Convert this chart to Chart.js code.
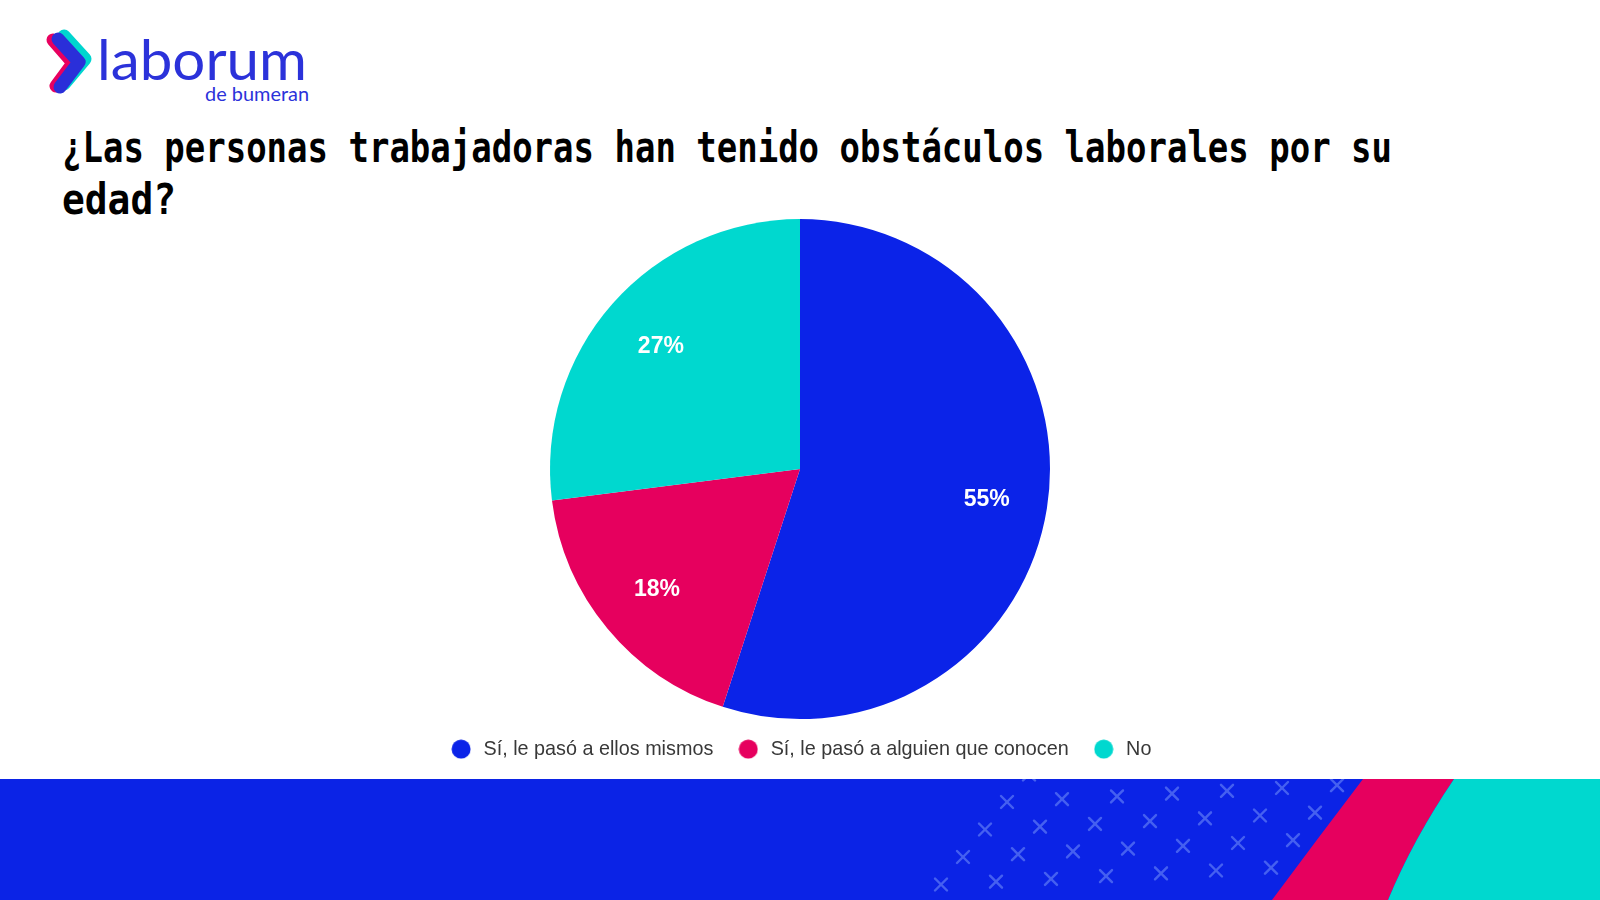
<!DOCTYPE html>
<html>
<head>
<meta charset="utf-8">
<script src="https://cdn.jsdelivr.net/npm/chart.js@4.4.1/dist/chart.umd.min.js"></script>
<style>
  html, body { margin: 0; padding: 0; background: #ffffff; }
  body { width: 1600px; height: 900px; position: relative; overflow: hidden; }
  #deco { position: absolute; left: 0; top: 0; }
  #chartWrap { position: absolute; left: 0; top: 200px; width: 1600px; height: 569px; }
</style>
</head>
<body>
<svg id="deco" width="1600" height="900" xmlns="http://www.w3.org/2000/svg">
  <!-- logo -->
  <g fill="none" stroke-linecap="round" stroke-linejoin="round" stroke-width="13">
    <polyline points="64,36 85,59 64,84" stroke="#00d5cf"/>
    <polyline points="53,40 73,63 56,86" stroke="#e8005f"/>
    <polyline points="58,39 79,62 60,87" stroke="#2a2fd9"/>
  </g>
  <text x="97" y="80" font-family="Lato, 'Open Sans', sans-serif" font-size="56" font-weight="400" fill="#2b32da" textLength="210" lengthAdjust="spacingAndGlyphs">laborum</text>
  <text x="205" y="101" font-family="Lato, 'Open Sans', sans-serif" font-size="19" font-weight="400" fill="#2b32da" textLength="104" lengthAdjust="spacingAndGlyphs">de bumeran</text>
  <!-- title -->
  <text x="62" y="162" font-family="'DejaVu Sans Mono', monospace" font-weight="bold" font-size="43" fill="#000" textLength="1330" lengthAdjust="spacingAndGlyphs">¿Las personas trabajadoras han tenido obstáculos laborales por su</text>
  <text x="62" y="214" font-family="'DejaVu Sans Mono', monospace" font-weight="bold" font-size="43" fill="#000" textLength="114" lengthAdjust="spacingAndGlyphs">edad?</text>
  <!-- bottom band -->
  <defs>
    <clipPath id="bandClip"><rect x="0" y="779" width="1600" height="121"/></clipPath>
  </defs>
  <rect x="0" y="779" width="1600" height="121" fill="#0b23e6"/>
  <g id="marks" clip-path="url(#bandClip)" stroke="#4560f0" stroke-width="2.4" stroke-linecap="round"></g>
  <path d="M1363,779 L1454,779 Q1413,839.5 1388,900 L1272,900 Q1318,838 1363,779 Z" fill="#e6005e"/>
  <path d="M1454,779 Q1413,839.5 1388,900 L1600,900 L1600,779 Z" fill="#00d8cf"/>
</svg>
<div id="chartWrap"><canvas id="c"></canvas></div>
<script>
// ---- data ----
const categories = ['Sí, le pasó a ellos mismos', 'Sí, le pasó a alguien que conocen', 'No'];
const values = [55, 18, 27];
const colors = ['#0b23e8', '#e6005e', '#00d8cf'];

// decorative X marks on the bottom band
(function () {
  const g = document.getElementById('marks');
  let s = '';
  for (let r = 0; r <= 4; r++) {
    for (let c = 0; c < 7; c++) {
      const x = 1007 - 22 * (r - 1) + 55 * c;
      const y = 802 + 27.5 * (r - 1) - 2.8 * c;
      const h = 6;
      s += `<line x1="${x - h}" y1="${y - h}" x2="${x + h}" y2="${y + h}"/><line x1="${x - h}" y1="${y + h}" x2="${x + h}" y2="${y - h}"/>`;
    }
  }
  g.innerHTML = s;
})();

// legend dots
function makeDot(color) {
  const cv = document.createElement('canvas');
  cv.width = 20; cv.height = 20;
  const ctx = cv.getContext('2d');
  ctx.fillStyle = color;
  ctx.beginPath();
  ctx.arc(10, 10, 9.5, 0, Math.PI * 2);
  ctx.fill();
  return cv;
}
const dots = colors.map(makeDot);

const baseGen = (Chart.overrides.pie && Chart.overrides.pie.plugins && Chart.overrides.pie.plugins.legend && Chart.overrides.pie.plugins.legend.labels.generateLabels)
  || Chart.overrides.doughnut.plugins.legend.labels.generateLabels;

const pctLabels = {
  id: 'pctLabels',
  afterDatasetsDraw(chart) {
    const ctx = chart.ctx;
    const meta = chart.getDatasetMeta(0);
    ctx.save();
    ctx.font = 'bold 23px "Liberation Sans", Arial, sans-serif';
    ctx.fillStyle = '#ffffff';
    ctx.textAlign = 'center';
    ctx.textBaseline = 'middle';
    meta.data.forEach((arc, i) => {
      const p = arc.getProps(['x', 'y', 'startAngle', 'endAngle', 'outerRadius'], true);
      const mid = (p.startAngle + p.endAngle) / 2;
      const r = p.outerRadius * 0.75;
      ctx.fillText(values[i] + '%', p.x + Math.cos(mid) * r + 1.5, p.y + Math.sin(mid) * r + 1.5);
    });
    ctx.restore();
  }
};

new Chart(document.getElementById('c'), {
  type: 'pie',
  data: {
    labels: categories,
    datasets: [{
      data: values,
      backgroundColor: colors,
      borderWidth: 0,
      radius: 250
    }]
  },
  options: {
    responsive: true,
    maintainAspectRatio: false,
    animation: false,
    layout: { padding: { top: 21.5, bottom: 0, left: 0, right: 0 } },
    plugins: {
      tooltip: { enabled: false },
      legend: {
        position: 'bottom',
        labels: {
          usePointStyle: true,
          pointStyleWidth: 25,
          boxHeight: 19.5,
          padding: 22.5,
          color: '#383838',
          font: { family: '"Liberation Sans", Arial, sans-serif', size: 19.8 },
          generateLabels(chart) {
            const items = baseGen(chart);
            items.forEach((it, i) => { it.pointStyle = dots[i]; });
            return items;
          }
        }
      }
    }
  },
  plugins: [pctLabels]
});
</script>
</body>
</html>
